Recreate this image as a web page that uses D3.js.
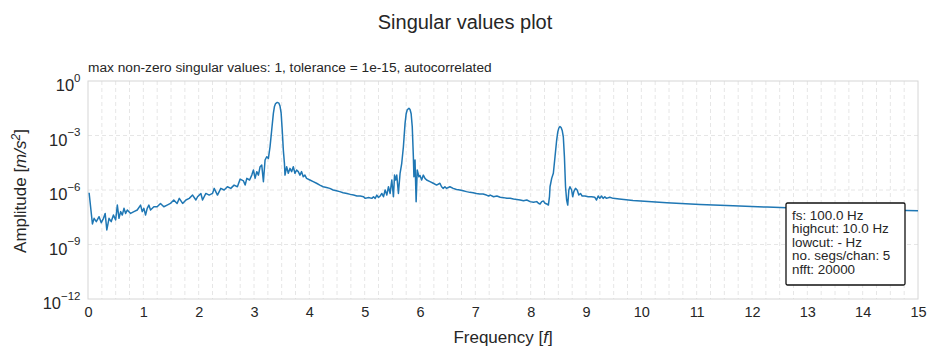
<!DOCTYPE html>
<meta charset="utf-8">
<style>
body { margin: 0; background: #fff; }
text { font-family: "Liberation Sans", Arial, sans-serif; fill: #262626; }
.grid line { stroke: #e3e3e3; stroke-width: 0.9; stroke-dasharray: 4,3; }
</style>
<body>
<script src="https://cdnjs.cloudflare.com/ajax/libs/d3/7.8.5/d3.min.js"></script>
<script>

// frequency [Hz] of each sample
var freq = [0.02,0.08,0.11,0.15,0.20,0.24,0.28,0.31,0.34,0.38,0.42,0.46,0.50,0.53,0.56,0.59,0.62,0.65,0.68,0.71,
  0.77,0.83,0.89,0.95,0.98,1.01,1.04,1.07,1.10,1.13,1.19,1.25,1.31,1.37,1.43,1.49,1.55,1.61,1.65,1.71,
  1.77,1.83,1.89,1.95,1.98,2.04,2.07,2.13,2.19,2.25,2.28,2.34,2.40,2.46,2.52,2.58,2.64,2.70,2.75,2.81,
  2.84,2.87,2.92,2.96,2.99,3.02,3.05,3.08,3.11,3.14,3.17,3.20,3.23,3.26,3.29,3.32,3.35,3.37,3.39,3.42,
  3.45,3.47,3.49,3.51,3.53,3.55,3.56,3.59,3.62,3.65,3.68,3.71,3.74,3.77,3.80,3.83,3.86,3.89,3.92,3.95,
  4.01,4.07,4.13,4.19,4.25,4.31,4.37,4.43,4.49,4.55,4.61,4.68,4.74,4.80,4.86,4.92,4.98,5.01,5.07,5.13,
  5.16,5.19,5.22,5.25,5.28,5.31,5.34,5.37,5.40,5.43,5.46,5.49,5.52,5.54,5.56,5.58,5.61,5.64,5.67,5.70,
  5.73,5.75,5.77,5.80,5.82,5.84,5.86,5.88,5.89,5.91,5.93,5.95,5.98,6.00,6.03,6.06,6.09,6.12,6.18,6.24,
  6.30,6.36,6.39,6.42,6.45,6.48,6.54,6.60,6.66,6.72,6.78,6.84,6.90,6.96,7.02,7.08,7.14,7.20,7.24,7.27,
  7.33,7.39,7.45,7.51,7.57,7.63,7.69,7.75,7.81,7.87,7.93,7.99,8.05,8.11,8.14,8.17,8.20,8.23,8.26,8.29,
  8.32,8.34,8.35,8.38,8.41,8.44,8.47,8.49,8.51,8.53,8.55,8.57,8.59,8.61,8.63,8.65,8.67,8.69,8.71,8.74,
  8.76,8.78,8.81,8.84,8.87,8.90,8.93,8.98,9.04,9.10,9.16,9.19,9.22,9.25,9.28,9.31,9.34,9.37,9.43,9.49,
  9.60,9.85,10.46,11.06,11.66,12.27,12.63,13.5,14.2,15.0];

// log10 of the singular value amplitude [m/s^2] at each frequency
var ampLog10 = [-6.15,-7.87,-7.56,-7.74,-7.47,-7.80,-7.56,-7.29,-8.20,-7.56,-7.74,-7.38,-7.65,-6.83,-7.56,-7.19,-7.38,-7.01,-7.29,-7.10,
  -7.29,-7.19,-7.10,-6.83,-7.19,-7.01,-7.38,-7.01,-6.83,-7.10,-6.92,-6.92,-6.74,-6.92,-6.83,-6.74,-6.55,-6.74,-6.46,-6.74,
  -6.55,-6.46,-6.28,-6.55,-6.37,-6.19,-6.55,-6.19,-6.28,-6.19,-5.91,-6.28,-5.91,-6.00,-5.82,-5.91,-5.73,-5.82,-5.40,-5.50,
  -5.73,-5.36,-5.45,-5.18,-4.90,-5.36,-4.99,-5.18,-4.72,-4.63,-5.54,-4.35,-4.17,-4.26,-3.62,-2.70,-1.78,-1.40,-1.24,-1.18,
  -1.22,-1.38,-1.75,-2.70,-3.80,-4.53,-5.18,-4.72,-5.08,-4.81,-4.99,-4.72,-5.08,-4.90,-4.99,-5.18,-4.99,-5.27,-5.18,-5.36,
  -5.45,-5.54,-5.63,-5.73,-5.82,-5.86,-5.91,-6.00,-6.04,-6.09,-6.15,-6.19,-6.24,-6.28,-6.33,-6.33,-6.37,-6.46,-6.41,-6.46,
  -6.37,-6.46,-6.28,-6.41,-6.33,-6.19,-6.37,-6.00,-6.28,-5.82,-6.19,-5.45,-6.37,-5.18,-5.45,-5.18,-6.19,-5.08,-4.53,-3.62,
  -2.33,-1.80,-1.58,-1.50,-1.57,-1.80,-2.52,-4.17,-5.27,-4.35,-6.65,-4.90,-5.27,-5.20,-5.45,-5.18,-5.36,-5.45,-5.54,-5.63,
  -5.73,-5.63,-5.82,-5.91,-5.82,-5.91,-5.82,-5.91,-5.97,-6.00,-6.04,-6.09,-6.13,-6.15,-6.19,-6.22,-6.22,-6.28,-6.33,-6.28,
  -6.37,-6.33,-6.40,-6.42,-6.46,-6.46,-6.50,-6.52,-6.55,-6.59,-6.55,-6.64,-6.68,-6.64,-6.73,-6.77,-6.64,-6.61,-6.73,-6.77,
  -6.83,-6.37,-5.82,-5.36,-5.08,-4.17,-3.25,-2.80,-2.58,-2.51,-2.56,-2.72,-3.07,-4.17,-5.82,-6.55,-6.83,-6.00,-5.82,-6.00,
  -6.37,-6.09,-5.91,-6.00,-6.28,-6.19,-6.33,-6.33,-6.37,-6.37,-6.40,-6.55,-6.33,-6.46,-6.33,-6.46,-6.37,-6.46,-6.40,-6.46,
  -6.50,-6.58,-6.70,-6.80,-6.87,-6.94,-6.98,-7.04,-7.09,-7.14];

var xTicks = d3.range(0, 16);
var yTicks = [1, 1e-3, 1e-6, 1e-9, 1e-12];
var yTickExp = ["0", "\u22123", "\u22126", "\u22129", "\u221212"];
var infoLines = ["fs: 100.0 Hz", "highcut: 10.0 Hz", "lowcut: - Hz", "no. segs/chan: 5", "nfft: 20000"];

var W = 927, H = 347;
var plotL = 88, plotR = 918, plotT = 81, plotB = 299;

var svg = d3.select("body").append("svg")
    .attr("width", W)
    .attr("height", H);

var x = d3.scaleLinear().domain([0, 15]).range([plotL, plotR]);
var y = d3.scaleLog().domain([1e-12, 1]).range([plotB, plotT]);

// grid: vertical every 0.25, horizontal at every third decade
var grid = svg.append("g").attr("class", "grid");
grid.selectAll("line.v")
    .data(d3.range(0.25, 15, 0.25))
  .enter().append("line")
    .attr("class", "v")
    .attr("x1", function(d) { return x(d); })
    .attr("x2", function(d) { return x(d); })
    .attr("y1", plotT)
    .attr("y2", plotB);
grid.selectAll("line.h")
    .data([1e-3, 1e-6, 1e-9])
  .enter().append("line")
    .attr("class", "h")
    .attr("x1", plotL)
    .attr("x2", plotR)
    .attr("y1", function(d) { return y(d); })
    .attr("y2", function(d) { return y(d); });

// frame
svg.append("rect")
    .attr("x", plotL)
    .attr("y", plotT)
    .attr("width", plotR - plotL)
    .attr("height", plotB - plotT)
    .attr("fill", "none")
    .attr("stroke", "#d6d6d6")
    .attr("stroke-width", 1);

// x axis
var xa = svg.append("g")
    .attr("transform", "translate(0," + plotB + ")")
    .call(d3.axisBottom(x).tickValues(xTicks).tickSize(0).tickPadding(7.5).tickFormat(d3.format("d")));
xa.select(".domain").remove();
xa.selectAll("text")
    .style("font-family", "'Liberation Sans', Arial, sans-serif")
    .style("font-size", "14.5px")
    .attr("fill", "#262626");

// y axis with 10^n labels
var ya = svg.append("g")
    .attr("transform", "translate(" + plotL + ",0)")
    .call(d3.axisLeft(y).tickValues(yTicks).tickSize(0).tickPadding(7.5).tickFormat(function() { return ""; }));
ya.select(".domain").remove();
ya.selectAll("text")
    .attr("dy", null)
    .attr("fill", "#262626")
    .style("font-family", "'Liberation Sans', Arial, sans-serif")
    .style("font-size", "16.5px")
    .each(function(d, i) {
      var t = d3.select(this);
      t.append("tspan").attr("dy", "9.5").text("10");
      t.append("tspan").attr("dy", "-9.5").style("font-size", "11.5px").text(yTickExp[i]);
    });

// line
var pts = freq.map(function(f, i) { return [f, Math.pow(10, ampLog10[i])]; });
svg.append("path")
    .datum(pts)
    .attr("fill", "none")
    .attr("stroke", "#1f77b4")
    .attr("stroke-width", 1.5)
    .attr("stroke-linejoin", "round")
    .attr("d", d3.line()
      .x(function(d) { return x(d[0]); })
      .y(function(d) { return y(d[1]); }));

// title and subtitle
svg.append("text")
    .attr("x", 465).attr("y", 29)
    .attr("text-anchor", "middle")
    .style("font-size", "20px")
    .text("Singular values plot");
svg.append("text")
    .attr("x", plotL).attr("y", 72)
    .style("font-size", "13.7px")
    .text("max non-zero singular values: 1, tolerance = 1e-15, autocorrelated");

// axis labels
var xl = svg.append("text")
    .attr("x", (plotL + plotR) / 2).attr("y", 343)
    .attr("text-anchor", "middle")
    .style("font-size", "17px");
xl.append("tspan").text("Frequency [");
xl.append("tspan").style("font-style", "italic").text("f");
xl.append("tspan").text("]");

var yl = svg.append("text")
    .attr("transform", "translate(26," + ((plotT + plotB) / 2 + 1) + ") rotate(-90)")
    .attr("text-anchor", "middle")
    .style("font-size", "17px");
yl.append("tspan").text("Amplitude [");
yl.append("tspan").style("font-style", "italic").text("m/s");
yl.append("tspan").attr("dy", "-6.5").style("font-size", "12px").style("font-style", "italic").text("2");
yl.append("tspan").attr("dy", "6.5").text("]");

// info box
var box = svg.append("g").attr("transform", "translate(786,203)");
box.append("rect")
    .attr("width", 119)
    .attr("height", 82)
    .attr("rx", 1.5)
    .attr("fill", "#fff")
    .attr("stroke", "#111")
    .attr("stroke-width", 1.3);
box.selectAll("text")
    .data(infoLines)
  .enter().append("text")
    .attr("x", 6)
    .attr("y", function(d, i) { return 16.5 + i * 13.6; })
    .style("font-size", "13.4px")
    .text(function(d) { return d; });

</script>
</body>
